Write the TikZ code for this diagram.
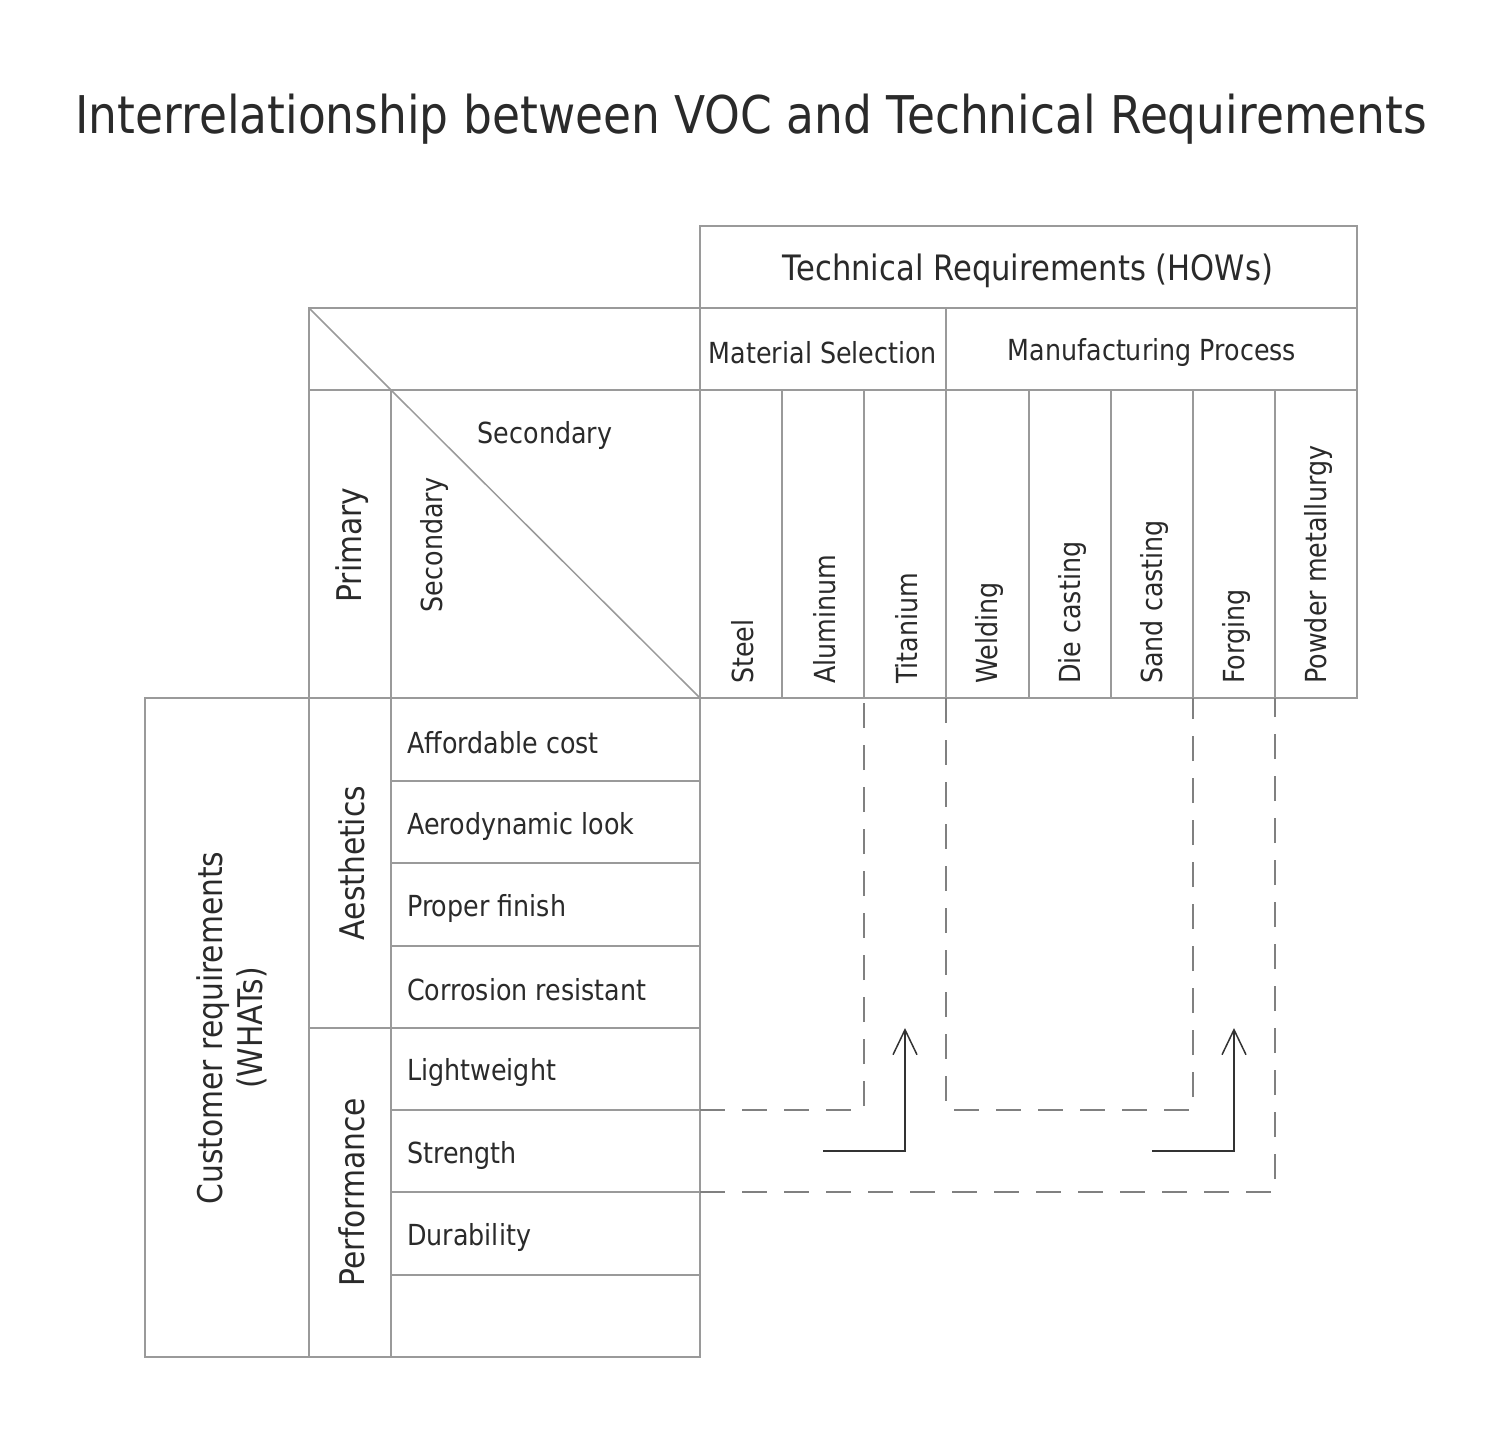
\documentclass[tikz,border=0pt]{standalone}
\usepackage{fontspec}
\setmainfont{DejaVu Sans}[FakeStretch=0.875]
\usetikzlibrary{arrows.meta}
\definecolor{txt}{HTML}{2A2A2A}
\definecolor{gridc}{HTML}{9A9A9A}
\definecolor{dashc}{HTML}{808080}
\definecolor{arrc}{HTML}{333333}
\tikzset{
  gridline/.style={draw=gridc, line width=1.5pt},
  dashline/.style={draw=dashc, line width=1.5pt, dash pattern=on 25pt off 17pt},
  arrline/.style={draw=arrc, line width=1.5pt, -{Straight Barb[length=25pt,width=24pt,line width=1.5pt]}},
  lbl/.style={text=txt, inner sep=0pt, font=\fontsize{29}{34}\selectfont},
  biglbl/.style={text=txt, inner sep=0pt, font=\fontsize{34}{40}\selectfont},
  collbl/.style={lbl, rotate=90, anchor=west},
  rowlbl/.style={lbl, anchor=west},
}
\begin{document}
\begin{tikzpicture}[x=1pt,y=-1pt]
\useasboundingbox (0,0) rectangle (1500,1439);
% title
\node[text=txt, inner sep=0pt, font=\fontsize{52}{60}\selectfont] (title) at (751,119) {Interrelationship between VOC and Technical Requirements};
% top header
\draw[gridline] (700,226) rectangle (1357,308);
\node[text=txt, inner sep=0pt, font=\fontsize{35}{41}\selectfont] (tech) at (1028,271) {Technical Requirements (HOWs)};
% second row
\draw[gridline] (309,308) rectangle (1357,390);
\draw[gridline] (700,308) -- (700,390) (946,308) -- (946,390);
\draw[gridline] (309,308) -- (391,390);
\node[lbl] (mat) at (823,353) {Material Selection};
\node[lbl] (manu) at (1152,353) {Manufacturing Process};
% third row
\draw[gridline] (309,390) rectangle (1357,698);
\foreach \x in {391,700,782,864,946,1029,1111,1193,1275} \draw[gridline] (\x,390) -- (\x,698);
\draw[gridline] (391,390) -- (700,698);
\node[lbl] (sech) at (545,435) {Secondary};
\node[lbl, rotate=90] (secv) at (434,545) {Secondary};
\node[biglbl, rotate=90] (prim) at (352,545) {Primary};
% column labels
\node[collbl] (c1) at (743,684) {Steel};
\node[collbl] (c2) at (825,684) {Aluminum};
\node[collbl] (c3) at (907,684) {Titanium};
\node[collbl] (c4) at (989,684) {Welding};
\node[collbl] (c5) at (1072,684) {Die casting};
\node[collbl] (c6) at (1154,684) {Sand casting};
\node[collbl] (c7) at (1236,684) {Forging};
\node[collbl] (c8) at (1318,684) {Powder metallurgy};
% left block
\draw[gridline] (145,698) rectangle (700,1357);
\draw[gridline] (309,698) -- (309,1357) (391,698) -- (391,1357);
\draw[gridline] (309,1028) -- (391,1028);
\foreach \y in {781,863,946,1028,1110,1192,1275} \draw[gridline] (391,\y) -- (700,\y);
\node[biglbl, rotate=90, align=center] (cust) at (232,1028) {Customer requirements\\(WHATs)};
\node[biglbl, rotate=90] (aest) at (352,863) {Aesthetics};
\node[biglbl, rotate=90] (perf) at (352,1192) {Performance};
\node[rowlbl] (r1) at (407,743) {Affordable cost};
\node[rowlbl] (r2) at (407,826) {Aerodynamic look};
\node[rowlbl] (r3) at (407,908) {Proper finish};
\node[rowlbl] (r4) at (407,990) {Corrosion resistant};
\node[rowlbl] (r5) at (407,1072) {Lightweight};
\node[rowlbl] (r6) at (407,1155) {Strength};
\node[rowlbl] (r7) at (407,1237) {Durability};
% connector coordinates
\coordinate (d1a) at (700,1110);
\coordinate (d1b) at (864,1110);
\coordinate (d1c) at (864,698);
\coordinate (d2a) at (946,698);
\coordinate (d2b) at (946,1110);
\coordinate (d2c) at (1193,1110);
\coordinate (d2d) at (1193,698);
\coordinate (d3a) at (700,1192);
\coordinate (d3b) at (1275,1192);
\coordinate (d3c) at (1275,698);
\coordinate (a1s) at (823,1151);
\coordinate (a1m) at (905,1151);
\coordinate (a1e) at (905,1028);
\coordinate (a2s) at (1152,1151);
\coordinate (a2m) at (1234,1151);
\coordinate (a2e) at (1234,1028);
\draw[dashline] (d1a) -- (d1b) -- (d1c);
\draw[dashline] (d2a) -- (d2b) -- (d2c) -- (d2d);
\draw[dashline] (d3a) -- (d3b) -- (d3c);
\draw[arrline] (a1s) -- (a1m) -- (a1e);
\draw[arrline] (a2s) -- (a2m) -- (a2e);
\end{tikzpicture}
\end{document}
